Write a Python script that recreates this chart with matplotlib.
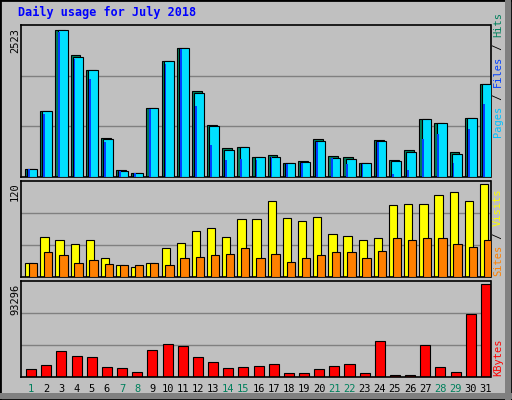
import matplotlib
matplotlib.use("Agg")
import matplotlib.pyplot as plt
from matplotlib.patches import Rectangle
import numpy as np

days = list(range(1, 32))
weekend = [1, 7, 8, 14, 15, 21, 22, 28, 29]
hits = [143,1125,2523,2084,1838,674,126,74,1188,1976,2215,1467,896,491,520,337,371,245,280,645,354,337,245,628,297,457,988,930,422,1016,1587]
files = [143,1125,2523,2061,1838,657,108,74,1188,1976,2215,1445,879,468,520,337,348,245,263,622,331,314,245,622,280,434,988,930,400,1016,1587]
pages = [131,1085,2472,2010,1684,594,103,63,1165,1940,2186,1210,554,285,303,285,343,228,245,600,325,228,228,600,57,114,645,742,245,828,1256]
visits = [18.6,52,48.5,43,48.5,24,16,13.4,18.6,37,44.6,60,63,52,74.5,74.5,99,77,72,78,56,53,48.5,51,93,95,95,106,110,99,120]
sites = [18.6,33,28,18.6,22.5,17,16,16,18.6,16,25,26,28,30,37,25,30,20,25,29,33,33,25,34,51,48.5,51,50,43,39,48.5]
kbytes = [7800,11900,26100,21000,20000,9800,8800,4750,27100,33300,31200,20000,14900,8800,9800,10900,12900,3700,3700,7800,10900,12900,3700,36300,1700,1700,32200,9800,4750,63800,93296]

W, H = 512, 400
fig = plt.figure(figsize=(5.12, 4.0), dpi=100, facecolor="#C0C0C0")
MONO = "DejaVu Sans Mono"

fig.patches.append(Rectangle((0, 0), 1, 1, transform=fig.transFigure, fill=False, edgecolor="black", lw=2))
fig.patches.append(Rectangle((1 - 7 / W, 0), 6 / W, 1, transform=fig.transFigure, color="#808080", lw=0))
fig.patches.append(Rectangle((0, 1 / H), 1, 6 / H, transform=fig.transFigure, color="#808080", lw=0))

def px_axes(x0, y0, x1, y1):
    return fig.add_axes([x0 / W, 1 - y1 / H, (x1 - x0) / W, (y1 - y0) / H])

def style(ax, top):
    ax.set_facecolor("#C0C0C0")
    ax.set_xlim(0.3, 31.3)
    ax.set_ylim(0, top)
    for f in (1 / 3, 2 / 3):
        ax.axhline(top * f, color="#808080", lw=1, zorder=0)
    ax.set_xticks([]); ax.set_yticks([])
    for s in ax.spines.values():
        s.set_color("black"); s.set_linewidth(1.2)

x = np.array(days)
ax1 = px_axes(20.5, 25, 490.5, 177)
style(ax1, 2600)
ax1.bar(x - 0.4, hits, width=0.65, align="edge", color="#00805C", edgecolor="black", lw=0.8, zorder=2)
ax1.bar(x - 0.25, files, width=0.65, align="edge", color="#00E0FF", edgecolor="black", lw=0.8, zorder=3)
ax1.bar(x - 0.2, pages, width=0.12, align="edge", color="#0040FF", edgecolor="none", lw=0, zorder=4)

ax2 = px_axes(20.5, 181, 490.5, 277)
style(ax2, 124.3)
ax2.bar(x - 0.4, visits, width=0.55, align="edge", color="#FFFF00", edgecolor="black", lw=0.8, zorder=2)
ax2.bar(x - 0.15, sites, width=0.55, align="edge", color="#FF8000", edgecolor="black", lw=0.8, zorder=3)

ax3 = px_axes(20.5, 281, 490.5, 377)
style(ax3, 96600)
ax3.bar(x - 0.33, kbytes, width=0.66, align="edge", color="#FF0000", edgecolor="black", lw=0.8, zorder=2)

fig.text(18 / W, 1 - 16 / H, "Daily usage for July 2018", color="#0000FF", fontsize=8.5,
         fontweight="bold", family=MONO, va="baseline")

for lab, ytop in (("2523", 28), ("120", 182), ("93296", 284)):
    fig.text(15 / W, 1 - ytop / H, lab, rotation=90, fontsize=7.5, family=MONO, va="top", ha="center")

def right_label(segs, ybottom, fs=7.5):
    cw = 0.6 * fs * 100 / 72
    y = ybottom
    for t, c in segs:
        fig.text(498 / W, 1 - y / H, t, rotation=90, color=c, fontsize=fs, family=MONO,
                 va="bottom", ha="center")
        y -= cw * len(t)

right_label([("Pages", "#00C0FF"), (" / ", "black"), ("Files", "#0040FF"), (" / ", "black"), ("Hits", "#00805C")], 137)
right_label([("Sites", "#FF8000"), (" / ", "black"), ("Visits", "#FFFF00")], 276)
right_label([("KBytes", "#FF0000")], 376)

for d in days:
    xp = 20.5 + (d - 0.3) / 31 * 470
    fig.text(xp / W, 1 - 389 / H, str(d), fontsize=7.5, family=MONO, ha="center", va="center",
             color="#00805C" if d in weekend else "black")

fig.savefig("out.png", dpi=100, facecolor=fig.get_facecolor())
